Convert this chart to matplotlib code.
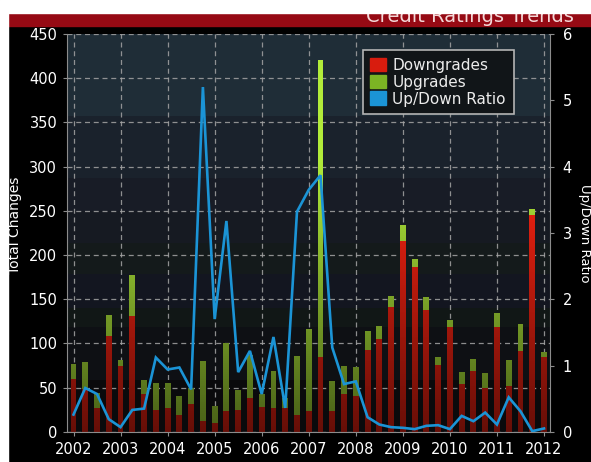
import numpy as np
import matplotlib
matplotlib.use("Agg")
import matplotlib.pyplot as plt
from matplotlib.patches import Rectangle, Patch
from matplotlib.path import Path

# quarterly observations, 2002 Q1 .. 2012 Q1
quarters = np.arange(2002, 2012.01, 0.25)
downgrades = [60, 48, 27, 108, 74, 131, 43, 25, 27, 19, 31, 12, 10, 23, 25, 38,
              28, 27, 27, 19, 24, 85, 24, 43, 40, 93, 105, 141, 216, 186, 138, 76,
              119, 54, 69, 50, 119, 52, 91, 245, 85]
upgrades = [17, 31, 17, 24, 7, 46, 16, 30, 28, 21, 18, 68, 19, 77, 22, 49,
            15, 42, 11, 67, 92, 336, 33, 32, 33, 21, 15, 13, 18, 10, 15, 9,
            8, 14, 13, 16, 15, 29, 31, 7, 5]
ratio = [0.26, 0.66, 0.57, 0.19, 0.07, 0.33, 0.35, 1.12, 0.94, 0.97, 0.64, 5.20,
         1.70, 3.18, 0.90, 1.22, 0.57, 1.43, 0.36, 3.32, 3.65, 3.87, 1.27, 0.72,
         0.76, 0.22, 0.11, 0.07, 0.06, 0.04, 0.09, 0.10, 0.04, 0.24, 0.16, 0.29,
         0.11, 0.52, 0.31, 0.01, 0.05]
years = list(range(2002, 2013))
left_ticks = list(range(0, 451, 50))
right_ticks = list(range(0, 7))

RED = "#ff2412"
GREEN = "#b2ec3a"
BLUE = "#1b94d6"
GRID = "#a4a4a4"
W, H = 591, 462

fig = plt.figure(figsize=(W / 100, H / 100), dpi=100, facecolor="black")

# header strip (title is cut off by the white margin, as in the original)
fig.add_artist(Rectangle((0, 1 - 26 / H), 1, 13 / H, transform=fig.transFigure,
                         color="#960a14", zorder=1))
fig.text(574 / W, 1 - 21.5 / H, "Credit Ratings Trends", ha="right",
         va="baseline", color="#f4d8d8", fontsize=14, zorder=5)
fig.add_artist(Rectangle((0, 1 - 13.3 / H), 1, 13.3 / H, transform=fig.transFigure,
                         color="white", zorder=10))
fig.add_artist(Rectangle((0, 0), 8 / W, 1, transform=fig.transFigure,
                         color="white", zorder=10))

ax = fig.add_axes([67 / W, 1 - 431.8 / H, 483 / W, 397.8 / H])
x0, x1 = 2002 - 6.5 / 47.05, 2012 + 6 / 47.05

# banded background, lighter towards the top
bands = [(0, 59, "#0a0a0c"), (59, 118, "#0e1014"), (118, 140, "#111716"),
         (140, 178, "#131620"), (178, 214, "#141a1b"), (214, 250, "#161a22"),
         (250, 287, "#181c26"), (287, 357, "#1a222c"), (357, 450, "#1f2d37")]
for lo, hi, c in bands:
    ax.axhspan(lo, hi, color=c, zorder=0, lw=0)

bar_w = 0.125
b1 = ax.bar(quarters, downgrades, width=bar_w, color=RED, zorder=1, lw=0)
b2 = ax.bar(quarters, upgrades, bottom=downgrades, width=bar_w, color=GREEN,
            zorder=1, lw=0)

# darken the bars towards the bottom
paths = [p.get_patch_transform().transform_path(p.get_path())
         for p in list(b1) + list(b2)]
clip = Path.make_compound_path(*paths)
yy = np.linspace(0, 450, 200)
alpha = np.clip(0.6 * (1 - yy / 310), 0, 1)
shade = np.zeros((200, 1, 4))
shade[:, 0, 3] = alpha
img = ax.imshow(shade, extent=[x0, x1, 0, 450], origin="lower", aspect="auto",
                interpolation="bilinear", zorder=1.2)
img.set_clip_path(clip, ax.transData)

ax.set_xlim(x0, x1)
ax.set_ylim(0, 450)
ax.set_xticks(years)
ax.set_yticks(left_ticks)
ax.set_axisbelow(True)
ax.grid(True, color=GRID, lw=0.9, linestyle=(0, (4, 3)), alpha=0.85)
ax.tick_params(colors="#8c8c8c", labelcolor="white", labelsize=10.5,
               length=3, width=0.8)
ax.tick_params(axis="y", pad=4)
ax.tick_params(axis="x", pad=4)
for s in ["top", "right"]:
    ax.spines[s].set_visible(False)
for s in ["left", "bottom"]:
    ax.spines[s].set_color("#8c8c8c")
ax.set_facecolor("black")

ax2 = ax.twinx()
ax2.plot(quarters, ratio, color=BLUE, lw=1.9, solid_joinstyle="miter", zorder=3)
ax2.set_ylim(0, 6)
ax2.set_yticks(right_ticks)
ax2.tick_params(colors="#8c8c8c", labelcolor="white", labelsize=10.5,
                length=3, width=0.8, pad=6)
for s in ["top", "left", "bottom"]:
    ax2.spines[s].set_visible(False)
ax2.spines["right"].set_color("#8c8c8c")

fig.text(15 / W, 1 - 225 / H, "Total Changes", rotation=90, ha="center",
         va="center", color="white", fontsize=10)
fig.text(585 / W, 1 - 233 / H, "Up/Down Ratio", rotation=270, ha="center",
         va="center", color="white", fontsize=9.5)

handles = [Patch(color="#d81c0e", label="Downgrades"),
           Patch(color="#7cb424", label="Upgrades"),
           Patch(color=BLUE, label="Up/Down Ratio")]
leg = ax2.legend(handles=handles, loc="upper left",
                 bbox_to_anchor=((362.7 - 67) / 483, (431.8 - 50) / 397.8),
                 borderaxespad=0, fontsize=11, frameon=True, fancybox=False,
                 handlelength=1.0, handleheight=1.0, handletextpad=0.45,
                 labelspacing=0.12, borderpad=0.5, labelcolor="#ececec")
leg.get_frame().set_facecolor("#111518")
leg.get_frame().set_edgecolor("#b4b4b4")
leg.get_frame().set_linewidth(1.2)
leg.get_frame().set_alpha(1)

fig.savefig("out.png", dpi=100, facecolor=fig.get_facecolor())
